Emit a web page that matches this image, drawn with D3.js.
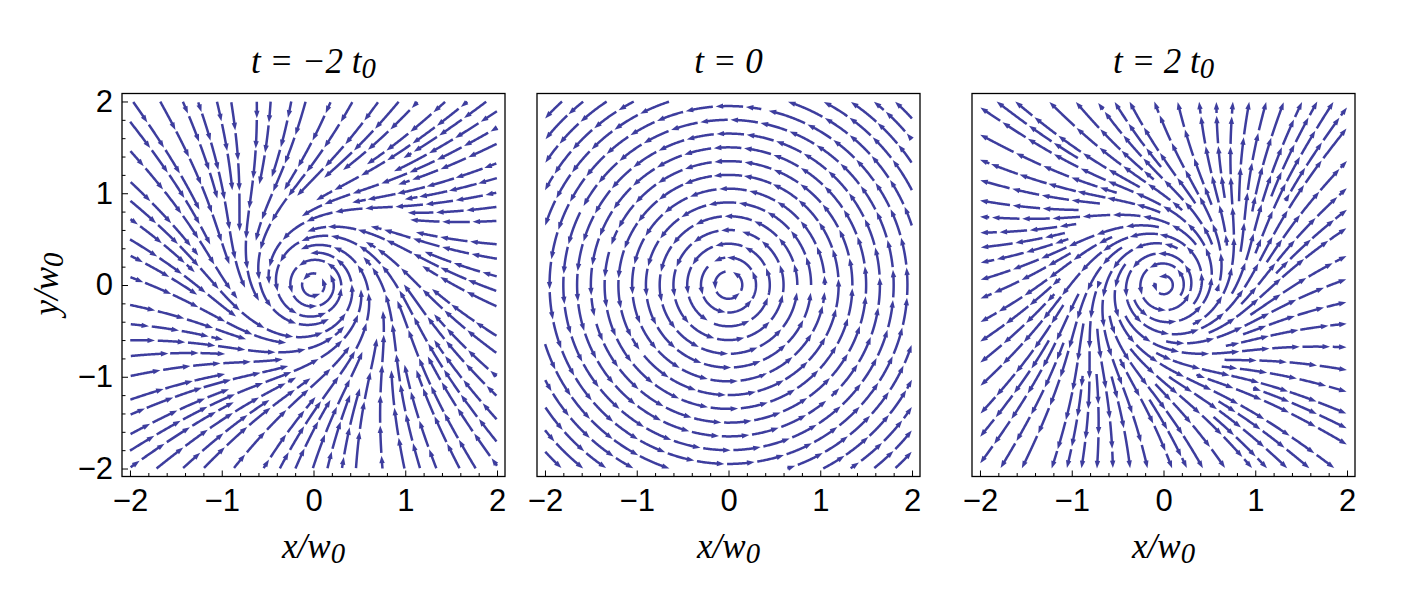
<!DOCTYPE html>
<html>
<head>
<meta charset="utf-8">
<script src="https://cdn.jsdelivr.net/npm/d3@7"></script>
<style>
body { margin: 0; background: #fff; }
.tick text { font-family: "Liberation Sans", Arial, sans-serif; font-size: 31px; fill: #000; }
.lbl { font-family: "Liberation Serif", "Times New Roman", serif; font-style: italic; font-size: 35px; fill: #000; }
</style>
</head>
<body>
<div id="chart"></div>
<script>
// panel data: time in units of t0, and the field shape
var panelTimes = [-2, 0, 2];
var titleMain = ["t = \u22122 t", "t = 0", "t = 2 t"];
var titleSub = ["0", "", "0"];
var radialRate = [-0.77, 0, 0.77];   // radial part of the flow (in < 0 < out)
var swirl = [1, 1, 1];               // azimuthal part (counter-clockwise)
var majorTicks = [-2, -1, 0, 1, 2];
var minorTicks = [-1.8, -1.6, -1.4, -1.2, -0.8, -0.6, -0.4, -0.2, 0.2, 0.4, 0.6, 0.8, 1.2, 1.4, 1.6, 1.8];
var xLabel = ["x/w", "0"];
var yLabel = ["y/w", "0"];

var lim = 2;

// evenly spaced streamlines (Jobard-Lefer style)
function makeStreams(a, l) {
    var dsep = 0.15, dtest = 0.075, h = 0.01, rmin = 0.08, skip = 12;
    var grid = {};
    function cell(v) { return Math.floor((v + lim) / dsep); }
    function add(p) {
        var k = cell(p.x) + "_" + cell(p.y);
        (grid[k] = grid[k] || []).push(p);
    }
    function free(px, py, d, id, k) {
        var ci = cell(px), cj = cell(py);
        for (var i = ci - 1; i <= ci + 1; i++) {
            for (var j = cj - 1; j <= cj + 1; j++) {
                var arr = grid[i + "_" + j];
                if (!arr) continue;
                for (var n = 0; n < arr.length; n++) {
                    var q = arr[n];
                    if (q.id === id && Math.abs(q.k - k) < skip) continue;
                    var dx = q.x - px, dy = q.y - py;
                    if (dx * dx + dy * dy < d * d) return false;
                }
            }
        }
        return true;
    }
    function dir(px, py) {
        var r2 = px * px + py * py;
        var vx = -l * py / r2 + a * px, vy = l * px / r2 + a * py;
        var m = Math.sqrt(vx * vx + vy * vy);
        return [vx / m, vy / m];
    }
    function rk4(px, py, s) {
        var k1 = dir(px, py);
        var k2 = dir(px + 0.5 * s * k1[0], py + 0.5 * s * k1[1]);
        var k3 = dir(px + 0.5 * s * k2[0], py + 0.5 * s * k2[1]);
        var k4 = dir(px + s * k3[0], py + s * k3[1]);
        return [px + s * (k1[0] + 2 * k2[0] + 2 * k3[0] + k4[0]) / 6,
                py + s * (k1[1] + 2 * k2[1] + 2 * k3[1] + k4[1]) / 6];
    }
    var lines = [];
    function trace(sx, sy) {
        var id = lines.length;
        var seed = {x: sx, y: sy, id: id, k: 0};
        var pts = [seed];
        add(seed);
        [1, -1].forEach(function(sg) {
            var px = sx, py = sy, k = 0;
            for (var it = 0; it < 3000; it++) {
                var p = rk4(px, py, sg * h);
                if (Math.abs(p[0]) > lim || Math.abs(p[1]) > lim) break;
                if (p[0] * p[0] + p[1] * p[1] < rmin * rmin) break;
                k += sg;
                if (!free(p[0], p[1], dtest, id, k)) break;
                var o = {x: p[0], y: p[1], id: id, k: k};
                pts.push(o);
                add(o);
                px = p[0]; py = p[1];
            }
        });
        pts.sort(function(u, v) { return u.k - v.k; });
        lines.push(pts);
    }
    trace(0.9, 0);
    for (var li = 0; li < lines.length; li++) {
        var L = lines[li], n = L.length;
        // start the scan at a different place on each line so closing gaps don't line up
        var i0 = Math.floor(n * ((li * 0.618034) % 1));
        for (var c = 0; c < n; c += 3) {
            var p = L[(i0 + c) % n], d = dir(p.x, p.y);
            for (var s = -1; s <= 1; s += 2) {
                var cx = p.x - s * d[1] * dsep, cy = p.y + s * d[0] * dsep;
                if (Math.abs(cx) > lim || Math.abs(cy) > lim) continue;
                if (cx * cx + cy * cy < rmin * rmin * 1.5) continue;
                if (free(cx, cy, dsep * 0.999, -1, 0)) trace(cx, cy);
            }
        }
    }
    return lines;
}

// cut a streamline into arrows
function toArrows(pts, phase) {
    var segLen = 0.33, gap = 0.018, minLen = 0.1;
    var s = [0];
    for (var i = 1; i < pts.length; i++) {
        s.push(s[i - 1] + Math.hypot(pts[i].x - pts[i - 1].x, pts[i].y - pts[i - 1].y));
    }
    var total = s[s.length - 1];
    var out = [];
    var cuts = [0];
    for (var c = phase * segLen; c < total; c += segLen) if (c > minLen) cuts.push(c);
    if (total - cuts[cuts.length - 1] < minLen && cuts.length > 1) cuts.pop();
    cuts.push(total + gap);
    for (var k = 0; k < cuts.length - 1; k++) {
        var st = cuts[k], en = cuts[k + 1] - gap;
        var seg = [];
        for (var j = 0; j < pts.length; j++) {
            if (s[j] >= st && s[j] <= en) seg.push(pts[j]);
        }
        if (seg.length < 4) continue;
        out.push(seg);
    }
    return out;
}

var initializeChart = function() {
    var W = 1404, H = 612;
    var size = 383, panelTop = 93.5;
    var panelLeft = [122, 537, 972];
    var pad = 0.087;
    var color = "#3d3d9e";

    var svg = d3.select("#chart").append("svg")
        .attr("width", W)
        .attr("height", H);

    var x = d3.scaleLinear().domain([-lim - pad, lim + pad]).range([0, size]);
    var y = d3.scaleLinear().domain([-lim - pad, lim + pad]).range([size, 0]);
    var fmt = d3.format("d");

    var lineGen = d3.line().x(function(d) { return x(d.x); }).y(function(d) { return y(d.y); });

    panelTimes.forEach(function(t, pi) {
        var g = svg.append("g").attr("transform", "translate(" + panelLeft[pi] + "," + panelTop + ")");

        var lines = makeStreams(radialRate[pi], swirl[pi]);
        var arrows = [];
        lines.forEach(function(L, li) {
            toArrows(L, (li * 0.381966) % 1).forEach(function(a) { arrows.push(a); });
        });

        var ag = g.append("g");
        arrows.forEach(function(seg) {
            var tip = seg[seg.length - 1];
            var tx = x(tip.x), ty = y(tip.y);
            var bi = seg.length - 1;
            while (bi > 0 && Math.hypot(x(seg[bi].x) - tx, y(seg[bi].y) - ty) < 7) bi--;
            var bx = x(seg[bi].x), by = y(seg[bi].y);
            var ux = tx - bx, uy = ty - by, m = Math.hypot(ux, uy) || 1;
            ux /= m; uy /= m;
            ag.append("path")
                .attr("d", lineGen(seg.slice(0, bi + 2)))
                .attr("fill", "none")
                .attr("stroke", color)
                .attr("stroke-width", 2.5);
            var hw = 2.7, hl = 7.5;
            ag.append("path")
                .attr("d", "M" + tx + "," + ty +
                    "L" + (tx - hl * ux - hw * uy) + "," + (ty - hl * uy + hw * ux) +
                    "L" + (tx - hl * ux + hw * uy) + "," + (ty - hl * uy - hw * ux) + "Z")
                .attr("fill", color);
        });

        // frame and ticks
        g.append("g").attr("transform", "translate(0," + size + ")")
            .call(d3.axisBottom(x).tickValues(majorTicks).tickFormat(fmt).tickSizeInner(-6).tickSizeOuter(0).tickPadding(12));
        g.append("g").attr("transform", "translate(0," + size + ")")
            .call(d3.axisBottom(x).tickValues(minorTicks).tickSizeInner(-3.5).tickSizeOuter(0).tickFormat(""));
        if (pi === 0) {
            g.append("g")
                .call(d3.axisLeft(y).tickValues(majorTicks).tickFormat(fmt).tickSizeInner(-6).tickSizeOuter(0).tickPadding(9));
            g.append("g")
                .call(d3.axisLeft(y).tickValues(minorTicks).tickSizeInner(-3.5).tickSizeOuter(0).tickFormat(""));
        }
        g.selectAll(".domain").remove();
        g.selectAll(".tick line").attr("stroke", "#000").attr("stroke-width", 1);

        g.append("rect")
            .attr("width", size).attr("height", size)
            .attr("fill", "none").attr("stroke", "#000").attr("stroke-width", 1.3);

        // title
        var tt = svg.append("text").attr("class", "lbl")
            .attr("x", panelLeft[pi] + size / 2).attr("y", 73)
            .attr("text-anchor", "middle");
        tt.append("tspan").text(titleMain[pi]);
        if (titleSub[pi]) tt.append("tspan").attr("dy", 5).attr("font-size", "82%").text(titleSub[pi]);

        // x label
        var xl = svg.append("text").attr("class", "lbl")
            .attr("x", panelLeft[pi] + size / 2).attr("y", 558)
            .attr("text-anchor", "middle");
        xl.append("tspan").text(xLabel[0]);
        xl.append("tspan").attr("dy", 5).attr("font-size", "82%").text(xLabel[1]);
    });

    var yl = svg.append("text").attr("class", "lbl")
        .attr("transform", "translate(58,284) rotate(-90)")
        .attr("text-anchor", "middle");
    yl.append("tspan").text(yLabel[0]);
    yl.append("tspan").attr("dy", 5).attr("font-size", "82%").text(yLabel[1]);
};

initializeChart();
</script>
</body>
</html>
